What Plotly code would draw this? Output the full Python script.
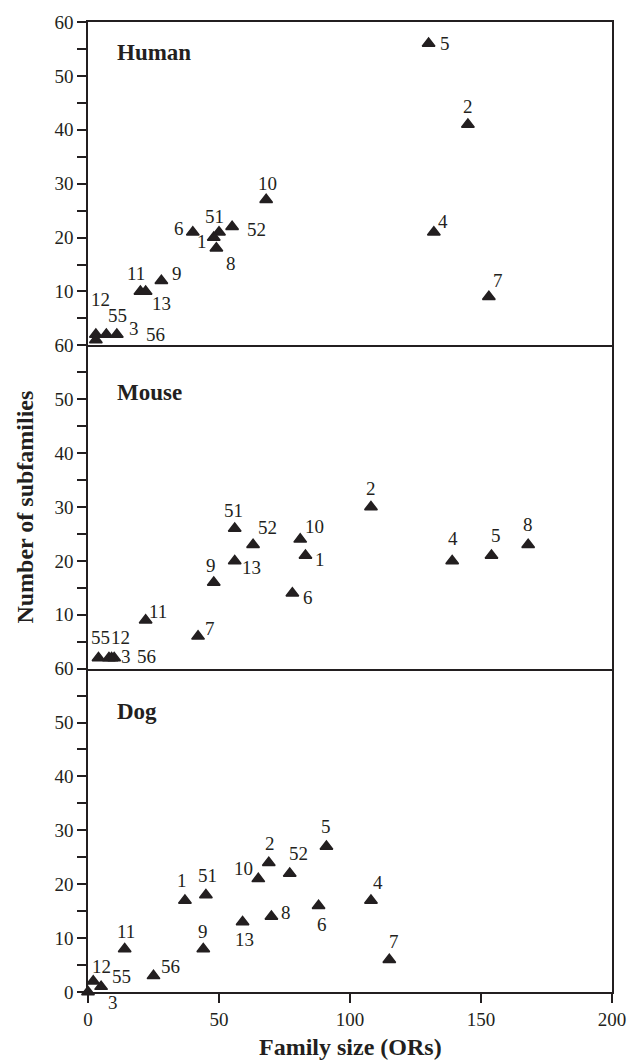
import plotly.graph_objects as go

# ---------------- data ----------------
human_ids = ["5", "2", "4", "7", "10", "6", "51", "1", "52", "8", "11", "13", "9", "12", "55", "3", "56"]
human_size = [130, 145, 132, 153, 68, 40, 50, 48, 55, 49, 20, 22, 28, 3, 7, 11, 3]
human_sub = [56, 41, 21, 9, 27, 21, 21, 20, 22, 18, 10, 10, 12, 2, 2, 2, 1]

mouse_ids = ["51", "52", "13", "9", "10", "1", "6", "11", "7", "55", "12", "3", "56", "2", "4", "5", "8"]
mouse_size = [56, 63, 56, 48, 81, 83, 78, 22, 42, 4, 8, 10, 9, 108, 139, 154, 168]
mouse_sub = [26, 23, 20, 16, 24, 21, 14, 9, 6, 2, 2, 2, 2, 30, 20, 21, 23]

dog_ids = ["2", "52", "10", "1", "51", "13", "8", "9", "11", "56", "12", "55", "3", "5", "6", "4", "7"]
dog_size = [69, 77, 65, 37, 45, 59, 70, 44, 14, 25, 2, 5, 0, 91, 88, 108, 115]
dog_sub = [24, 22, 21, 17, 18, 13, 14, 8, 8, 3, 2, 1, 0, 27, 16, 17, 6]

panel_names = ["Human", "Mouse", "Dog"]
x_ticks = [0, 50, 100, 150, 200]
y_major = [0, 10, 20, 30, 40, 50, 60]
y_minor = [5, 15, 25, 35, 45, 55]

# ---------------- label offsets (pixels, style only) ----------------
human_off = [(16, 0), (0, -18), (9, -11), (9, -16), (1, -16), (-14, -4), (-5, -16), (-12, 4),
             (24, 3), (15, 15), (-4, -18), (16, 12), (16, -7), (5, -35), (11, -19), (17, -6), (60, -5)]
mouse_off = [(-1, -18), (14, -17), (17, 7), (-3, -17), (14, -13), (15, 4), (16, 4), (12, -9),
             (12, -8), (2, -20), (12, -20), (12, -1), (35, -1), (0, -19), (1, -22), (5, -20), (0, -20)]
dog_off = [(1, -19), (9, -20), (-15, -10), (-3, -20), (2, -19), (2, 18), (15, -4), (0, -17),
           (1, -17), (17, -9), (8, -15), (20, -10), (25, 11), (0, -20), (3, 19), (7, -18), (5, -18)]

INK = "#231f20"
FONT = "Liberation Serif"

fig = go.Figure()
panels = [
    (human_ids, human_size, human_sub, human_off, "x", "y"),
    (mouse_ids, mouse_size, mouse_sub, mouse_off, "x2", "y2"),
    (dog_ids, dog_size, dog_sub, dog_off, "x3", "y3"),
]

annotations = []
for ids, xs, ys, offs, xa, ya in panels:
    fig.add_trace(go.Scatter(
        x=xs, y=ys, mode="markers", xaxis=xa, yaxis=ya,
        marker=dict(symbol="triangle-up", size=11, color=INK, line=dict(width=1.5, color=INK)),
        cliponaxis=False, showlegend=False, hoverinfo="skip",
    ))
    for lab, xv, yv, (dx, dy) in zip(ids, xs, ys, offs):
        annotations.append(dict(
            x=xv, y=yv, xref=xa, yref=ya, text=lab, showarrow=False,
            xshift=dx, yshift=-dy, xanchor="center", yanchor="middle",
            font=dict(family=FONT, size=19, color=INK),
        ))

# panel titles
title_pos = [("x domain", "y domain", 0.051, 0.906), ("x2 domain", "y2 domain", 0.051, 0.853),
             ("x3 domain", "y3 domain", 0.051, 0.867)]
for name, (xr, yr, tx, ty) in zip(panel_names, title_pos):
    annotations.append(dict(
        x=tx, y=ty, xref=xr, yref=yr, text="<b>%s</b>" % name, showarrow=False,
        xanchor="left", yanchor="middle", font=dict(family=FONT, size=23, color=INK),
    ))

annotations.append(dict(
    x=-0.121, y=0.5, xref="paper", yref="paper", text="<b>Number of subfamilies</b>",
    textangle=-90, showarrow=False, xanchor="center", yanchor="middle",
    font=dict(family=FONT, size=24, color=INK),
))
annotations.append(dict(
    x=0.5, y=-0.057, xref="paper", yref="paper", text="<b>Family size (ORs)</b>",
    showarrow=False, xanchor="center", yanchor="middle",
    font=dict(family=FONT, size=24, color=INK),
))

LW = 1.6
TL = 9

def xaxis(anchor, show, mirror):
    d = dict(domain=[0, 1], anchor=anchor, range=[0, 200], showline=True, linecolor=INK,
             linewidth=LW, mirror=mirror, showgrid=False, zeroline=False,
             tickfont=dict(family=FONT, size=19, color=INK))
    if show:
        d.update(tickmode="array", tickvals=x_ticks, ticks="outside", ticklen=TL,
                 tickwidth=LW, tickcolor=INK, showticklabels=True)
    else:
        d.update(ticks="", showticklabels=False)
    return d

def yaxis(anchor, dom, show_zero):
    vals = y_major if show_zero else y_major[1:]
    return dict(domain=dom, anchor=anchor, range=[0, 60], showline=True, linecolor=INK,
                linewidth=LW, mirror=True, showgrid=False, zeroline=False,
                tickmode="array", tickvals=vals, ticks="outside", ticklen=TL, tickwidth=LW,
                tickcolor=INK, tickfont=dict(family=FONT, size=19, color=INK),
                minor=dict(tickmode="array", tickvals=y_minor, ticks="outside", ticklen=TL,
                           tickwidth=LW, tickcolor=INK, showgrid=False))

fig.update_layout(
    width=638, height=1060,
    margin=dict(l=88, r=26, t=16, b=68),
    paper_bgcolor="white", plot_bgcolor="white",
    xaxis=xaxis("y", False, True), xaxis2=xaxis("y2", False, False),
    xaxis3=xaxis("y3", True, False),
    yaxis=yaxis("x", [2 / 3, 1], False), yaxis2=yaxis("x2", [1 / 3, 2 / 3], False),
    yaxis3=yaxis("x3", [0, 1 / 3], True),
    annotations=annotations,
)
fig.update_layout(xaxis2=dict(matches="x"), xaxis3=dict(matches="x"))

fig.write_html("out.html", config={"displayModeBar": False},
               post_script="document.body.style.margin='0';")
